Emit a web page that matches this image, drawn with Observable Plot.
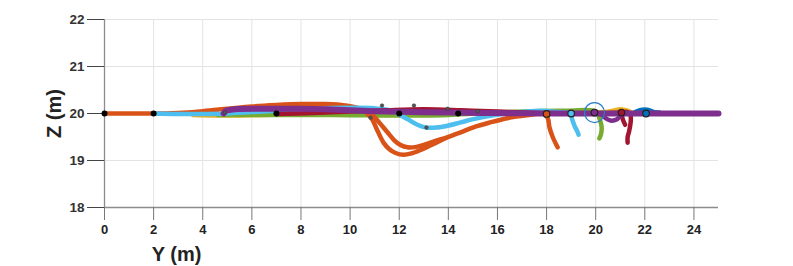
<!DOCTYPE html>
<html>
<head>
<meta charset="utf-8">
<script src="https://cdn.jsdelivr.net/npm/d3@7"></script>
<script src="https://cdn.jsdelivr.net/npm/@observablehq/plot@0.6"></script>
<style>
  html, body { margin: 0; padding: 0; background: #fff; }
  #chart { width: 793px; height: 266px; }
  svg { font-family: "Liberation Sans", Arial, sans-serif; }
</style>
</head>
<body>
<div id="chart"></div>
<script>
// Axis ticks
const xTicks = [0, 2, 4, 6, 8, 10, 12, 14, 16, 18, 20, 22, 24];
const yTicks = [18, 19, 20, 21, 22];

// Trajectories: [Y (m), Z (m)]
const yellowPath = [[3.6,19.97],[4.5,19.96],[5.5,19.96],[6.5,19.97],[7.2,19.98],[9,19.99],[12,19.99],[16,20.0],[19,20.02],[20.5,20.04],[20.8,20.07],[21.0,20.09],[21.3,20.06],[21.45,20.02]];
const greenPath = [[4.6,19.97],[5.5,19.97],[7,19.97],[9,19.97],[11,19.96],[13,19.96],[14,19.97],[16,20.02],[17.5,20.05],[19,20.06],[19.7,20.07],[20.05,20.03],[20.15,19.9],[20.24,19.72],[20.22,19.57],[20.15,19.47]];
const orangeOuter = [[0,20],[2,20],[2.5,20.0],[3,20.01],[4,20.05],[5,20.1],[6,20.15],[7,20.18],[8,20.2],[9,20.2],[9.8,20.17],[10.4,20.1],[10.83,19.93],[11.1,19.65],[11.36,19.38],[11.6,19.24],[11.85,19.16],[12.17,19.12],[12.5,19.15],[12.9,19.23],[13.4,19.35],[13.9,19.48],[14.5,19.6],[15.1,19.72],[15.7,19.81],[16.4,19.9],[17.2,19.96],[17.9,19.99],[18.05,19.9],[18.12,19.7],[18.25,19.5],[18.45,19.28]];
const orangeInner = [[9,20.18],[10,20.13],[10.6,20.06],[10.95,19.95],[11.2,19.8],[11.52,19.6],[11.8,19.43],[12.05,19.33],[12.34,19.28],[12.7,19.29],[13.1,19.35],[13.5,19.42],[13.9,19.48]];
const lightBluePath = [[2,20],[3,19.99],[4,19.99],[5,20.0],[6,20.03],[7,20.06],[8,20.09],[9,20.11],[10,20.12],[11,20.11],[11.7,20.06],[12.0,19.98],[12.34,19.88],[12.74,19.76],[13.11,19.7],[13.5,19.7],[13.97,19.74],[14.5,19.81],[15.02,19.88],[15.7,19.95],[16.4,20.0],[17.1,20.04],[17.75,20.06],[18.5,20.03],[18.95,20.0],[19.05,19.86],[19.15,19.72],[19.25,19.62],[19.3,19.55]];
const darkRedPath = [[7,19.99],[8.5,20.01],[10,20.04],[11.5,20.07],[13,20.09],[14.5,20.07],[16,20.04],[18,20.01],[20,20.0],[21.0,20.02],[21.3,20.03],[21.42,19.95],[21.42,19.8],[21.36,19.62],[21.3,19.5],[21.3,19.38]];
const darkRedLeg = [[21.05,20.0],[21.1,19.88],[21.2,19.76]];
const bluePath = [[21.5,20.0],[21.8,20.07],[22.1,20.08],[22.4,20.03],[22.6,20.02]];
const purplePath = [[4.85,20.0],[4.95,20.06],[5.3,20.09],[6.5,20.1],[8,20.1],[9.5,20.08],[11,20.05],[12.5,20.03],[14,20.02],[16,20.01],[18,20.0],[20,20.0],[22,20.0],[25,20.0]];
const purpleWiggle = [[20.2,20.0],[20.4,19.9],[20.6,19.85],[20.85,19.87],[21.0,19.95],[21.1,20.0]];

// Markers
const waypointY = [0, 2, 7, 12, 14.4];
const waypointZ = [20, 20, 20, 20, 20];
const startY = [18.0, 19.0, 19.95, 21.05, 22.05];
const startZ = [19.99, 20.0, 20.02, 20.02, 20.0];
const startSeries = ["orange", "lightblue", "purple", "darkred", "blue"];
const smallY = [10.83, 13.11, 4.9, 11.3, 12.6, 13.97, 15.2];
const smallZ = [19.91, 19.7, 20.02, 20.17, 20.17, 20.1, 20.05];
const targetY = [19.95];
const targetZ = [20.02];

const colors = {
  orange: "#D95319", lightblue: "#4DBEEE", purple: "#7E2F8E", green: "#77AC30",
  yellow: "#EDB120", darkred: "#A2142F", blue: "#0072BD"
};

const toRows = pts => pts.map(([y, z]) => ({y, z}));
const lineOf = (pts, color, w = 4.5) =>
  Plot.line(toRows(pts), {x: "y", y: "z", stroke: color, strokeWidth: w, curve: "catmull-rom", strokeLinecap: "round", strokeLinejoin: "round"});

const plot = Plot.plot({
  width: 793,
  height: 266,
  marginLeft: 104,
  marginRight: 75,
  marginTop: 19,
  marginBottom: 59,
  x: {domain: [0, 25]},
  y: {domain: [18, 22]},
  style: {fontFamily: "Liberation Sans, Arial, sans-serif", background: "#fff"},
  marks: [
    Plot.gridX(xTicks, {stroke: "#e3e3e3", strokeOpacity: 1, strokeWidth: 1}),
    Plot.gridY(yTicks, {stroke: "#e3e3e3", strokeOpacity: 1, strokeWidth: 1}),
    Plot.ruleY([18], {stroke: "#8c8c8c", strokeWidth: 1.3}),
    Plot.ruleX([0], {stroke: "#8c8c8c", strokeWidth: 1.3}),
    Plot.axisX(xTicks, {tickSize: 13, tickPadding: 4, fontSize: 13, fontWeight: "bold", fill: "#222", stroke: "#777", label: null}),
    Plot.axisY(yTicks, {tickSize: 17, tickPadding: 3, fontSize: 13.5, fontWeight: "bold", fill: "#333", stroke: "#444", label: null}),
    lineOf(yellowPath, colors.yellow),
    lineOf(greenPath, colors.green),
    lineOf(orangeInner, colors.orange),
    lineOf(orangeOuter, colors.orange),
    lineOf(lightBluePath, colors.lightblue),
    lineOf(darkRedPath, colors.darkred),
    lineOf(darkRedLeg, colors.darkred),
    lineOf(bluePath, colors.blue),
    lineOf(purplePath, colors.purple, 6),
    lineOf(purpleWiggle, colors.purple, 4.5),
    Plot.dot(smallY.map((y, i) => ({y, z: smallZ[i]})), {x: "y", y: "z", r: 1.8, fill: "#555", stroke: "#333", strokeWidth: 0.5}),
    Plot.dot(startY.map((y, i) => ({y, z: startZ[i], s: startSeries[i]})), {x: "y", y: "z", r: 3.3, fill: d => colors[d.s], stroke: "#222", strokeWidth: 1.2}),
    Plot.dot(waypointY.map((y, i) => ({y, z: waypointZ[i]})), {x: "y", y: "z", r: 3, fill: "#000"}),
    Plot.dot(targetY.map((y, i) => ({y, z: targetZ[i]})), {x: "y", y: "z", r: 10, fill: "none", stroke: "#2a7fc8", strokeWidth: 1.2}),
    Plot.text(["Y (m)"], {frameAnchor: "bottom-left", dx: 72, dy: 47, textAnchor: "middle", lineAnchor: "middle", fontSize: 20, fontWeight: "bold", fill: "#222"}),
    Plot.text(["Z (m)"], {frameAnchor: "left", dx: -50, rotate: -90, textAnchor: "middle", lineAnchor: "middle", fontSize: 20, fontWeight: "bold", fill: "#222"})
  ]
});
document.getElementById("chart").appendChild(plot);
</script>
</body>
</html>
